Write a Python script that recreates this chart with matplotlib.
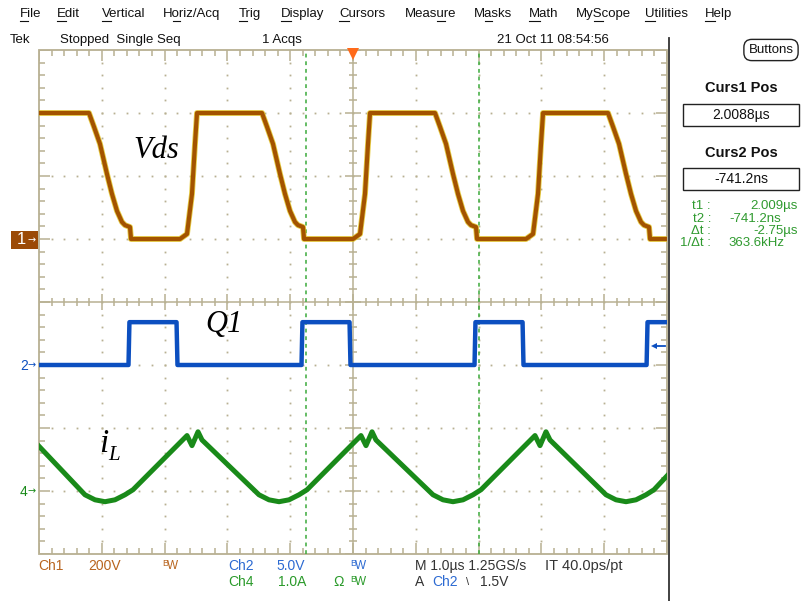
import matplotlib
matplotlib.use("Agg")
import matplotlib.pyplot as plt
import numpy as np
from matplotlib.patches import Rectangle
from matplotlib.lines import Line2D
from matplotlib.collections import LineCollection

W, H = 809, 601
NARROW = ['Liberation Sans Narrow', 'Liberation Sans', 'DejaVu Sans']

# scope settings (volts or amps per division, offset in divisions)
ch1_scale, ch1_offset = 200.0, 1.0
ch2_scale, ch2_offset = 5.0, -1.0
ch4_scale, ch4_offset = 1.0, -3.0
curs1_us = 2.0088
curs2_us = -0.7412
trig_level = 1.5

# Ch1: Vds (time in us, volts)
vds_t = [-5.0, -4.204, -4.124, -4.029, -3.917, -3.838, -3.758, -3.679, -3.631, -3.551, -3.535,
         -2.755, -2.643, -2.564, -2.516, -2.484,
         -1.449, -1.369, -1.274, -1.162, -1.083, -1.003, -0.924, -0.876, -0.796, -0.780,
         0.000, 0.112, 0.191, 0.239, 0.271,
         1.306, 1.386, 1.481, 1.593, 1.672, 1.752, 1.831, 1.879, 1.959, 1.975,
         2.755, 2.867, 2.946, 2.994, 3.026,
         4.061, 4.141, 4.236, 4.348, 4.427, 4.507, 4.586, 4.634, 4.714, 4.730, 5.0]
vds_v = [400, 400, 356, 302, 206, 143, 89, 54, 44, 38, 0,
         0, 16, 143, 302, 400,
         400, 356, 302, 206, 143, 89, 54, 44, 38, 0,
         0, 16, 143, 302, 400,
         400, 356, 302, 206, 143, 89, 54, 44, 38, 0,
         0, 16, 143, 302, 400,
         400, 356, 302, 206, 143, 89, 54, 44, 38, 0, 0]

# Ch2: Q1 gate drive (us, V)
q1_t = [-5.0, -3.575, -3.560, -2.810, -2.795, -0.820, -0.805, -0.055, -0.040,
        1.935, 1.950, 2.700, 2.715, 4.675, 4.690, 5.0]
q1_v = [0, 0, 3.4, 3.4, 0, 0, 3.4, 3.4, 0,
        0, 3.4, 3.4, 0, 0, 3.4, 3.4]

# Ch4: inductor current iL (us, A)
il_t = [-5.0, -4.268, -4.108, -3.949, -3.790, -3.631, -3.503, -2.643, -2.564, -2.468, -2.404,
        -1.497, -1.338, -1.178, -1.019, -0.860, -0.732, 0.127, 0.207, 0.303, 0.366,
        1.274, 1.433, 1.592, 1.752, 1.911, 2.038, 2.898, 2.978, 3.073, 3.137,
        4.029, 4.188, 4.347, 4.506, 4.666, 4.793, 5.0]
il_a = [0.71, -0.06, -0.14, -0.17, -0.14, -0.06, 0.02, 0.88, 0.72, 0.94, 0.81,
        -0.06, -0.14, -0.17, -0.14, -0.06, 0.02, 0.88, 0.72, 0.94, 0.81,
        -0.06, -0.14, -0.17, -0.14, -0.06, 0.02, 0.88, 0.72, 0.94, 0.81,
        -0.06, -0.14, -0.17, -0.14, -0.06, 0.02, 0.24]

menu_items = ['File', 'Edit', 'Vertical', 'Horiz/Acq', 'Trig', 'Display', 'Cursors',
              'Measure', 'Masks', 'Math', 'MyScope', 'Utilities', 'Help']
menu_x = [20, 57, 102, 163, 239, 281, 339, 405, 474, 529, 576, 645, 705]
menu_hotkey = [0, 0, 0, 1, 0, 0, 0, 4, 1, 0, 2, 0, 0]

GC = '#b8b092'
BROWN = '#a35300'
BLUE = '#0c4fc0'
GREEN = '#198a19'

fig = plt.figure(figsize=(W / 100, H / 100), dpi=100)
fig.patch.set_facecolor('white')


def fx(x):
    return x / W


def fy(y):
    return 1 - y / H


def ftext(x, y, s, **kw):
    kw.setdefault('family', NARROW)
    kw.setdefault('fontsize', 9.5)
    kw.setdefault('va', 'center')
    return fig.text(fx(x), fy(y), s, **kw)


ax = fig.add_axes([fx(39), fy(554), 628 / W, 504 / H])
ax.set_xlim(-5, 5)
ax.set_ylim(-4, 4)
ax.axis('off')
PX, PY = 10 / 628, 8 / 504

# graticule
ax.add_patch(Rectangle((-5, -4), 10, 8, fill=False, ec=GC, lw=1.3, clip_on=False))
segs = []
for k in range(-25, 26):
    x = k * 0.2
    L = 11 if k % 5 == 0 else 6
    c = 8 if k % 5 == 0 else 4
    segs += [[(x, 4), (x, 4 - L * PY)], [(x, -4), (x, -4 + L * PY)], [(x, -c * PY), (x, c * PY)]]
for k in range(-20, 21):
    y = k * 0.2
    L = 11 if k % 5 == 0 else 6
    c = 8 if k % 5 == 0 else 4
    segs += [[(-5, y), (-5 + L * PX, y)], [(5, y), (5 - L * PX, y)], [(-c * PX, y), (c * PX, y)]]
segs += [[(-5, 0), (5, 0)], [(0, -4), (0, 4)]]
ax.add_collection(LineCollection(segs, colors=GC, linewidths=1.1))
dots_x, dots_y = [], []
for i in range(-4, 5):
    if i == 0:
        continue
    for k in range(-19, 20):
        dots_x.append(i)
        dots_y.append(k * 0.2)
for j in range(-3, 4):
    if j == 0:
        continue
    for k in range(-24, 25):
        dots_x.append(k * 0.2)
        dots_y.append(j)
ax.plot(dots_x, dots_y, ls='none', marker='s', ms=1.3, mew=0, color=GC)

# cursors
for c in (curs1_us, curs2_us):
    ax.plot([c, c], [-4, 4], color='#3aaa3a', lw=1.1, ls=(0, (2.5, 2.5)))

# traces
vds_div = [v / ch1_scale + ch1_offset for v in vds_v]
q1_div = [v / ch2_scale + ch2_offset for v in q1_v]
il_div = [a / ch4_scale + ch4_offset for a in il_a]
ax.plot(vds_t, vds_div, color='#e2c21a', lw=4.2, alpha=0.8, solid_joinstyle='round')
ax.plot(vds_t, vds_div, color=BROWN, lw=3.0, solid_joinstyle='round')
ax.plot(q1_t, q1_div, color=BLUE, lw=3.2)
ax.plot(il_t, il_div, color=GREEN, lw=3.6)

# trigger markers
ax.plot(0, 4 - 3.5 * PY, marker='v', ms=8, color='#ff6a1a', mew=0, clip_on=False)
ty = trig_level / ch2_scale + ch2_offset
ax.plot([4.80, 4.97], [ty, ty], color=BLUE, lw=1.3)
ax.plot(4.80, ty, marker='<', ms=5, color=BLUE, mew=0)

# trace labels
fig.text(fx(133), fy(158), 'Vds', family='Liberation Serif', style='italic', fontsize=22, va='baseline')
fig.text(fx(205), fy(332), 'Q1', family='Liberation Serif', style='italic', fontsize=22, va='baseline')
fig.text(fx(99), fy(452), 'i', family='Liberation Serif', style='italic', fontsize=24, va='baseline')
fig.text(fx(108), fy(460), 'L', family='Liberation Serif', style='italic', fontsize=15, va='baseline')

# channel ground markers
fig.add_artist(Rectangle((fx(11), fy(249)), 27 / W, 18 / H, transform=fig.transFigure,
                         fc='#9b4a06', ec='none'))
ftext(17, 240, '1', color='white', fontsize=12)
ftext(27, 240, '→', color='white', fontsize=7, family='DejaVu Sans')
ftext(20, 366, '2', color=BLUE, fontsize=10)
ftext(28, 365, '→', color=BLUE, fontsize=7, family='DejaVu Sans')
ftext(20, 492, '4', color=GREEN, fontsize=10)
ftext(28, 491, '→', color=GREEN, fontsize=7, family='DejaVu Sans')

# menu and status bar (hotkey letters underlined)
renderer = fig.canvas.get_renderer()
for name, x, hk in zip(menu_items, menu_x, menu_hotkey):
    ftext(x, 14, name, color='#111111')
    pw = 0
    if hk:
        pre = ftext(0, 14, name[:hk])
        pw = pre.get_window_extent(renderer).width
        pre.remove()
    ch = ftext(0, 14, name[hk])
    cw = ch.get_window_extent(renderer).width
    ch.remove()
    fig.add_artist(Line2D([fx(x + pw), fx(x + pw + cw)], [fy(21), fy(21)], color='#111111', lw=0.8))
ftext(10, 40, 'Tek', color='#111111')
ftext(60, 40, 'Stopped  Single Seq', color='#111111')
ftext(262, 40, '1 Acqs', color='#111111')
ftext(497, 40, '21 Oct 11 08:54:56', color='#111111')
ftext(771, 50, 'Buttons', ha='center', color='#111111',
      bbox=dict(boxstyle='round,pad=0.35,rounding_size=0.6', fc='white', ec='#222222', lw=1))
fig.add_artist(Line2D([fx(669), fx(669)], [fy(38), fy(601)], color='#333333', lw=1.3))

# right panel
ftext(741, 88, 'Curs1 Pos', ha='center', family=['Liberation Sans', 'DejaVu Sans'],
      weight='bold', fontsize=10.5, color='#111111')
fig.add_artist(Rectangle((fx(683), fy(126)), 116 / W, 22 / H, transform=fig.transFigure,
                         fill=False, ec='#222222', lw=1))
ftext(741, 115, '2.0088µs', ha='center', fontsize=10, color='#111111')
ftext(741, 153, 'Curs2 Pos', ha='center', family=['Liberation Sans', 'DejaVu Sans'],
      weight='bold', fontsize=10.5, color='#111111')
fig.add_artist(Rectangle((fx(683), fy(190)), 116 / W, 22 / H, transform=fig.transFigure,
                         fill=False, ec='#222222', lw=1))
ftext(741, 179, '-741.2ns', ha='center', fontsize=10, color='#111111')
MG = '#2f9a2f'
ftext(711, 206, 't1 :', ha='right', color=MG, fontsize=9.5)
ftext(711, 218.5, 't2 :', ha='right', color=MG, fontsize=9.5)
ftext(711, 231, 'Δt :', ha='right', color=MG, fontsize=9.5)
ftext(711, 243.5, '1/Δt :', ha='right', color=MG, fontsize=9.5)
ftext(798, 206, '2.009µs', ha='right', color=MG, fontsize=9.5)
ftext(729, 218.5, '-741.2ns', color=MG, fontsize=9.5)
ftext(798, 231, '-2.75µs', ha='right', color=MG, fontsize=9.5)
ftext(728, 243.5, '363.6kHz', color=MG, fontsize=9.5)

# bottom status
C1 = '#b8641e'
C2 = '#2c6ad2'
C4 = '#2a9a2a'


def bw(x, y, color):
    ftext(x, y - 3, 'B', color=color, fontsize=6.5)
    ftext(x + 5, y, 'W', color=color, fontsize=8.5)


ftext(38, 566, 'Ch1', color=C1, fontsize=10)
ftext(88, 566, '200V', color=C1, fontsize=10)
bw(162, 566, C1)
ftext(228, 566, 'Ch2', color=C2, fontsize=10)
ftext(276, 566, '5.0V', color=C2, fontsize=10)
bw(350, 566, C2)
ftext(415, 566, 'M 1.0µs 1.25GS/s', color='#333333', fontsize=10)
ftext(545, 566, 'IT 40.0ps/pt', color='#333333', fontsize=10.5)
ftext(228, 582, 'Ch4', color=C4, fontsize=10)
ftext(278, 582, '1.0A', color=C4, fontsize=10)
ftext(333, 582, 'Ω', color=C4, fontsize=10)
bw(350, 582, C4)
ftext(415, 582, 'A', color='#333333', fontsize=10)
ftext(432, 582, 'Ch2', color=C2, fontsize=10)
ftext(466, 582, '\\', color='#333333', fontsize=8)
ftext(480, 582, '1.5V', color='#333333', fontsize=10)

fig.savefig('out.png', dpi=100)
